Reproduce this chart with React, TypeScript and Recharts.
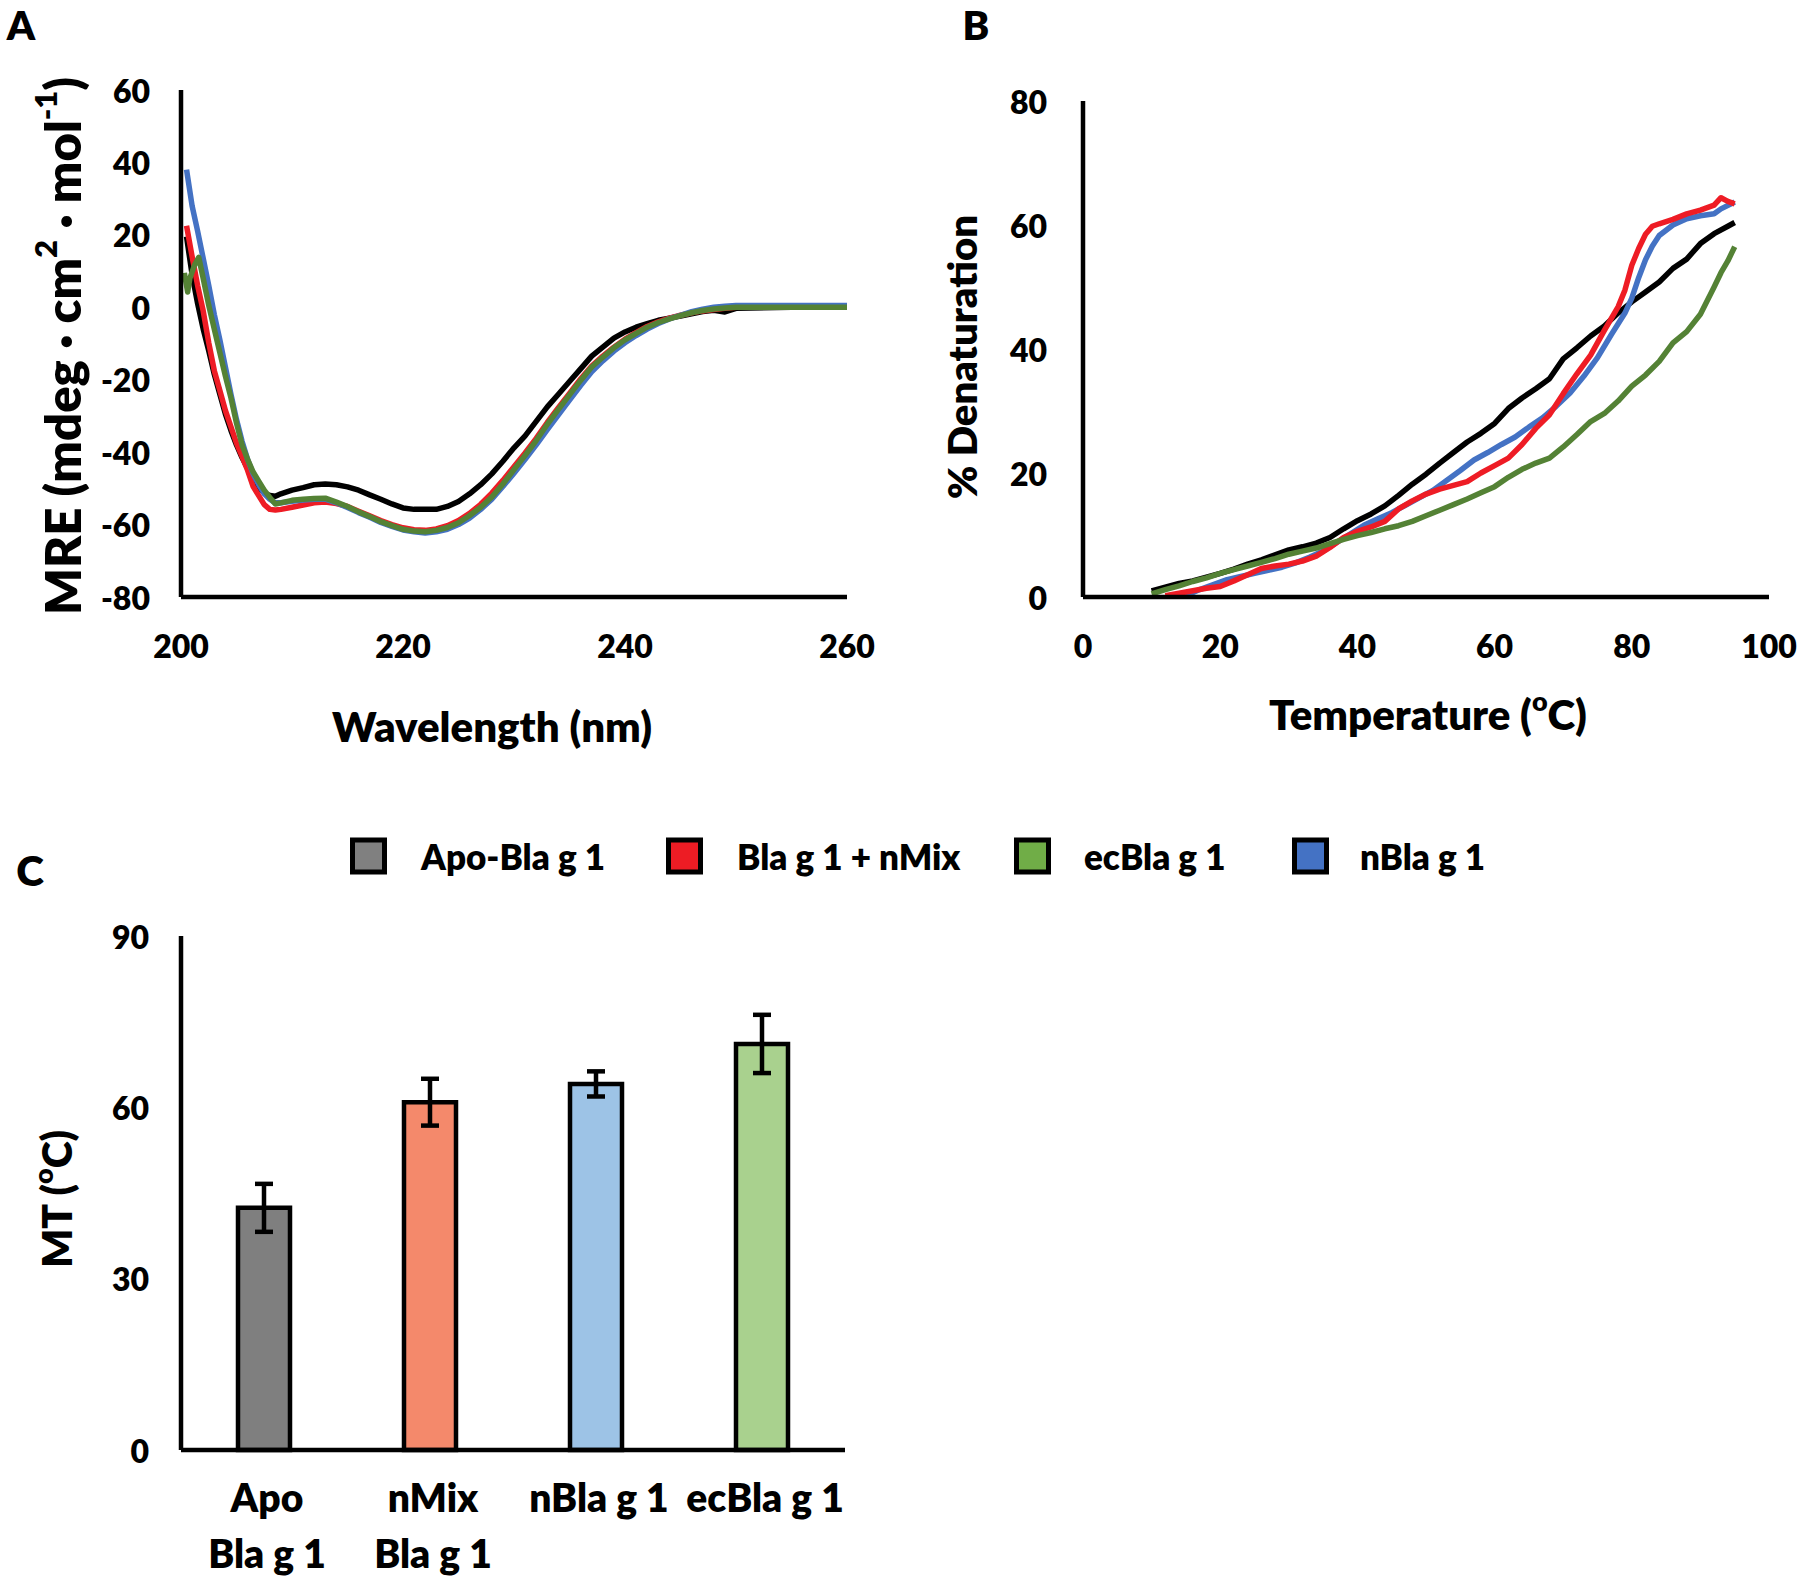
import React from 'react';
import { LineChart, Line, XAxis, YAxis, BarChart, Bar, Cell, ErrorBar } from 'recharts';

const FONT = 'Lato, "Open Sans", sans-serif';

// ---------- Panel A : CD spectra ----------
const cdWavelength = [
  200.5, 201, 201.5, 202, 202.5, 203, 203.5, 204, 204.5, 205, 205.5, 206, 206.5, 207, 207.5, 208, 208.5, 209,
  210, 211, 212, 213, 214, 215, 216, 217, 218, 219, 220, 221, 222, 223, 224, 225, 226, 227, 228, 229,
  230, 231, 232, 233, 234, 235, 236, 237, 238, 239, 240, 241, 242, 243, 244, 245, 246, 247, 248, 249, 250,
  255, 260,
];
const cdApo = [
  19.5, 9, 1, -6, -12, -18.5, -24, -29.5, -34, -38, -41.5, -44.5, -47.5, -49.8, -51.2, -52, -52.2, -51.5,
  -50.5, -49.8, -49, -48.8, -49, -49.6, -50.5, -51.8, -53, -54.3, -55.4, -55.8, -55.8, -55.8, -55, -53.6, -51.5, -49, -46, -42.5,
  -38.8, -35.5, -31.5, -27.5, -24, -20.5, -17, -13.5, -11, -8.5, -6.8, -5.5, -4.5, -3.6, -3, -2.4, -1.8, -1.2, -0.8, -1.3, -0.3,
  0, 0,
];
const cdNMix = [
  22.5, 14, 6, -1, -9.8, -17.5, -23, -28.5, -33, -37.5, -41.2, -45, -49.5, -52, -54.5, -55.8, -56, -55.8,
  -55.2, -54.6, -54, -53.8, -54.2, -55, -56.3, -57.6, -58.9, -60, -60.9, -61.4, -61.6, -61.2, -60.3, -58.9, -56.9, -54.4, -51.3, -47.8,
  -44, -40.2, -36.2, -31.8, -27.7, -23.8, -19.8, -16.2, -13.5, -11, -8.8, -7, -5.3, -4, -3, -2.2, -1.5, -1, -0.6, -0.3, 0,
  0, 0,
];
const cdNBla = [
  38, 28, 21, 13.5, 6, -2, -9, -16.5, -24, -31, -37, -42, -46, -49, -51.5, -53, -54, -54,
  -53.6, -53.2, -53, -53, -54, -55.3, -56.7, -58, -59.4, -60.5, -61.5, -62, -62.3, -62, -61.3, -60, -58.2, -55.8, -53, -49.5,
  -45.8, -42, -38, -33.8, -29.7, -25.6, -21.6, -17.8, -14.8, -12.1, -9.8, -7.8, -6, -4.5, -3.2, -2.2, -1.2, -0.5, 0, 0.3, 0.5,
  0.5, 0.5,
];
const cdWavelengthEc = [
  200.3, 200.6, 200.8, 201.2, 201.6, 202, 202.5, 203, 203.5, 204, 204.5, 205, 205.5, 206, 206.5, 207, 207.5, 208, 208.5, 209,
  210, 211, 212, 213, 214, 215, 216, 217, 218, 219, 220, 221, 222, 223, 224, 225, 226, 227, 228, 229,
  230, 231, 232, 233, 234, 235, 236, 237, 238, 239, 240, 241, 242, 243, 244, 245, 246, 247, 248, 249, 250,
  255, 260,
];
const cdEc = [
  9.5, 4.2, 8, 11.5, 13.8, 8, 0.5, -6, -12.5, -19, -25, -32, -38, -42, -45.5, -48, -50.5, -52.5, -54.3, -54,
  -53.3, -53, -52.8, -52.7, -53.8, -55, -56.5, -57.8, -59.2, -60.3, -61.3, -61.8, -62, -61.6, -60.8, -59.5, -57.5, -55.2, -52.4, -48.8,
  -44.8, -40.9, -36.8, -32.3, -28.2, -24.2, -20.2, -16.5, -13.8, -11.2, -9, -7.2, -5.5, -4.2, -3.2, -2.3, -1.5, -0.9, -0.5, -0.2, 0,
  0, 0,
];
const cdXTicks = [200, 220, 240, 260];
const cdYTicks = [-80, -60, -40, -20, 0, 20, 40, 60];

// ---------- Panel B : thermal denaturation ----------
const apoTemp = [10, 12, 14, 16, 18, 20, 22, 24, 26, 28, 30, 32, 34, 36, 38, 40, 42, 44, 46, 48, 50, 52, 54, 56, 58, 60, 62, 64, 66, 68, 70, 72, 74, 76, 78, 80, 82, 84, 86, 88, 90, 92, 94, 95];
const apoDen = [1.0, 1.6, 2.2, 2.6, 3.2, 3.8, 4.5, 5.3, 6.0, 6.8, 7.6, 8.1, 8.7, 9.6, 11, 12.3, 13.4, 14.7, 16.4, 18.2, 19.8, 21.6, 23.3, 25, 26.4, 28, 30.4, 32.1, 33.6, 35.2, 38.4, 40.2, 42.1, 43.7, 45.8, 47.6, 49.2, 50.8, 53, 54.5, 57, 58.6, 59.8, 60.4];
const nmixTemp = [12, 14, 16, 18, 20, 22, 24, 26, 28, 30, 32, 34, 36, 38, 40, 42, 44, 46, 48, 50, 52, 54, 56, 58, 60, 62, 64, 66, 68, 70, 72, 74, 76, 78, 79, 80, 81, 82, 83, 84, 86, 88, 90, 92, 93, 94, 95];
const nmixDen = [0.2, 0.6, 1.0, 1.4, 1.7, 2.6, 3.6, 4.6, 5.0, 5.3, 5.8, 6.6, 8.0, 9.6, 10.6, 11.3, 12.2, 14.2, 15.5, 16.6, 17.4, 18, 18.6, 20.0, 21.2, 22.4, 24.6, 27.2, 29.4, 32.8, 36, 39, 43, 46.8, 49.5, 53.5, 56.2, 58.5, 59.8, 60.2, 60.9, 61.8, 62.4, 63.2, 64.4, 63.8, 63.4];
const nblaTemp = [15, 17, 19, 21, 23, 25, 27, 29, 31, 33, 35, 37, 39, 41, 43, 45, 47, 49, 51, 53, 55, 57, 59, 61, 63, 65, 67, 69, 71, 73, 75, 77, 79, 80, 81, 82, 83, 84, 86, 88, 90, 92, 93, 95];
const nblaDen = [0.2, 1.2, 2.0, 2.8, 3.3, 3.8, 4.3, 4.8, 5.5, 6.4, 7.4, 8.8, 10.2, 11.6, 12.6, 13.6, 14.8, 16.0, 17.2, 18.8, 20.4, 22.1, 23.3, 24.6, 25.8, 27.4, 28.9, 30.8, 32.9, 35.6, 38.6, 42.3, 45.8, 48.2, 51.5, 54.4, 56.6, 58.3, 60, 61, 61.5, 61.8, 62.6, 63.7];
const ecTemp = [10, 12, 14, 16, 18, 20, 22, 24, 26, 28, 30, 32, 34, 36, 38, 40, 42, 44, 46, 48, 50, 52, 54, 56, 58, 60, 62, 64, 66, 68, 70, 72, 74, 76, 78, 80, 82, 84, 86, 88, 90, 92, 93, 94, 95];
const ecDen = [0.5, 1.2, 1.8, 2.5, 3.1, 3.8, 4.4, 5.0, 5.6, 6.2, 6.9, 7.4, 7.9, 8.6, 9.3, 9.9, 10.4, 11.0, 11.5, 12.2, 13.1, 14.0, 14.9, 15.8, 16.8, 17.8, 19.3, 20.6, 21.6, 22.4, 24.2, 26.2, 28.3, 29.6, 31.6, 34, 35.8, 38, 41, 42.8, 45.6, 50, 52.3, 54.2, 56.5];
const denXTicks = [0, 20, 40, 60, 80, 100];
const denYTicks = [0, 20, 40, 60, 80];

// ---------- Panel C : melting temperatures ----------
const mtLine1 = ['Apo', 'nMix', 'nBla g 1', 'ecBla g 1'];
const mtLine2 = ['Bla g 1', 'Bla g 1', '', ''];
const mtValues = [42.4, 60.9, 64.1, 71.1];
const mtErrors = [4.2, 4.1, 2.2, 5.1];
const mtColors = ['#7F7F7F', '#F4896B', '#9DC3E6', '#A9D18E'];
const mtYTicks = [0, 30, 60, 90];

// ---------- Legend ----------
const legendLabels = ['Apo-Bla g 1', 'Bla g 1 + nMix', 'ecBla g 1', 'nBla g 1'];
const legendColors = ['#808080', '#ED1C24', '#70AD47', '#4472C4'];
const legendBoxX = [350, 666, 1014, 1292];
const legendTextX = [421, 737, 1084, 1360];

const lineColors = { apo: '#000000', nmix: '#EE1C25', nbla: '#4472C4', ec: '#548235' };

const pairs = (xs: number[], ys: number[]) => xs.map((x, i) => ({ x, y: ys[i] }));

const cdApoData = pairs(cdWavelength, cdApo);
const cdNMixData = pairs(cdWavelength, cdNMix);
const cdNBlaData = pairs(cdWavelength, cdNBla);
const cdEcData = pairs(cdWavelengthEc, cdEc);

const denApoData = pairs(apoTemp, apoDen);
const denNMixData = pairs(nmixTemp, nmixDen);
const denNBlaData = pairs(nblaTemp, nblaDen);
const denEcData = pairs(ecTemp, ecDen);

const mtData = mtLine1.map((l1, i) => ({ name: l1 + ' ' + mtLine2[i], l1, l2: mtLine2[i], value: mtValues[i], err: mtErrors[i] }));

const textBase = { fontFamily: FONT, fontWeight: 800, fill: '#000' } as const;
const AX = { stroke: '#000', strokeWidth: 4.5 };

const makeXTick = (off: number, size: number) => (props: any) => {
  const { x, y, payload } = props;
  return (
    <text x={x} y={y + off} textAnchor="middle" dominantBaseline="central" style={{ ...textBase, fontSize: size }}>
      {payload.value}
    </text>
  );
};
const makeYTick = (off: number, size: number) => (props: any) => {
  const { x, y, payload } = props;
  return (
    <text x={x - off} y={y} textAnchor="end" dominantBaseline="central" style={{ ...textBase, fontSize: size }}>
      {payload.value}
    </text>
  );
};
const CatTick = (props: any) => {
  const { x, y, index } = props;
  return (
    <g>
      <text x={x + 3} y={y + 47} textAnchor="middle" dominantBaseline="central" style={{ ...textBase, fontSize: 39 }}>
        {mtLine1[index]}
      </text>
      {mtLine2[index] ? (
        <text x={x + 3} y={y + 103} textAnchor="middle" dominantBaseline="central" style={{ ...textBase, fontSize: 39 }}>
          {mtLine2[index]}
        </text>
      ) : null}
    </g>
  );
};

const lineProps = { type: 'linear' as const, dataKey: 'y', dot: false, activeDot: false, strokeWidth: 5.5, isAnimationActive: false, strokeLinejoin: 'round' as const };

export default function App() {
  return (
    <div style={{ position: 'absolute', left: 0, top: 0, width: 1800, height: 1580, background: '#fff', overflow: 'hidden' }}>
      {/* Panel A */}
      <div style={{ position: 'absolute', left: 0, top: 0 }}>
        <LineChart width={900} height={760} margin={{ top: 90, right: 53, left: 0, bottom: 0 }}>
          <XAxis type="number" dataKey="x" domain={[200, 260]} ticks={cdXTicks} interval={0} height={163}
            axisLine={AX} tickLine={false} tickSize={0} tickMargin={0} tick={makeXTick(48, 32)} allowDataOverflow />
          <YAxis type="number" domain={[-80, 60]} ticks={cdYTicks} interval={0} width={181}
            axisLine={AX} tickLine={false} tickSize={0} tickMargin={0} tick={makeYTick(31, 32)} allowDataOverflow />
          <Line {...lineProps} data={cdApoData} stroke={lineColors.apo} name="Apo-Bla g 1" />
          <Line {...lineProps} data={cdNMixData} stroke={lineColors.nmix} name="Bla g 1 + nMix" />
          <Line {...lineProps} data={cdNBlaData} stroke={lineColors.nbla} name="nBla g 1" />
          <Line {...lineProps} data={cdEcData} stroke={lineColors.ec} name="ecBla g 1" />
        </LineChart>
      </div>

      {/* Panel B */}
      <div style={{ position: 'absolute', left: 900, top: 0 }}>
        <LineChart width={900} height={760} margin={{ top: 101, right: 31, left: 0, bottom: 0 }}>
          <XAxis type="number" dataKey="x" domain={[0, 100]} ticks={denXTicks} interval={0} height={163}
            axisLine={AX} tickLine={false} tickSize={0} tickMargin={0} tick={makeXTick(48, 32)} allowDataOverflow />
          <YAxis type="number" domain={[0, 80]} ticks={denYTicks} interval={0} width={183}
            axisLine={AX} tickLine={false} tickSize={0} tickMargin={0} tick={makeYTick(36, 32)} allowDataOverflow />
          <Line {...lineProps} data={denApoData} stroke={lineColors.apo} name="Apo-Bla g 1" />
          <Line {...lineProps} data={denNBlaData} stroke={lineColors.nbla} name="nBla g 1" />
          <Line {...lineProps} data={denNMixData} stroke={lineColors.nmix} name="Bla g 1 + nMix" />
          <Line {...lineProps} data={denEcData} stroke={lineColors.ec} name="ecBla g 1" />
        </LineChart>
      </div>

      {/* Panel C */}
      <div style={{ position: 'absolute', left: 0, top: 800 }}>
        <BarChart width={900} height={780} data={mtData} margin={{ top: 136, right: 55, left: 0, bottom: 0 }} barSize={52}>
          <XAxis type="category" dataKey="name" height={130} axisLine={AX} tickLine={false} tickSize={0} tickMargin={0}
            tick={<CatTick />} interval={0} />
          <YAxis type="number" domain={[0, 90]} ticks={mtYTicks} interval={0} width={181}
            axisLine={AX} tickLine={false} tickSize={0} tickMargin={0} tick={makeYTick(32, 32)} />
          <Bar dataKey="value" stroke="#000" strokeWidth={4.5} isAnimationActive={false}>
            {mtData.map((d, i) => (
              <Cell key={d.name} fill={mtColors[i]} />
            ))}
            <ErrorBar dataKey="err" width={9} strokeWidth={4.5} stroke="#000" direction="y" />
          </Bar>
        </BarChart>
      </div>

      {/* Overlay texts */}
      <svg width={1800} height={1580} style={{ position: 'absolute', left: 0, top: 0, pointerEvents: 'none' }}>
        <text x={21} y={40} textAnchor="middle" style={{ ...textBase, fontSize: 40 }}>A</text>
        <text x={976} y={40} textAnchor="middle" style={{ ...textBase, fontSize: 40 }}>B</text>
        <text x={30} y={870} textAnchor="middle" dominantBaseline="central" style={{ ...textBase, fontSize: 42 }}>C</text>

        <text x={62} y={346} textAnchor="middle" dominantBaseline="central" transform="rotate(-90, 62, 346)" style={{ ...textBase, fontSize: 49 }}>
          <tspan>MRE (mdeg · cm</tspan>
          <tspan dy={-17} style={{ fontSize: 31 }}>2</tspan>
          <tspan dy={17}> · mol</tspan>
          <tspan dy={-17} style={{ fontSize: 31 }}>-1</tspan>
          <tspan dy={17}>)</tspan>
        </text>
        <text x={492} y={726} textAnchor="middle" dominantBaseline="central" style={{ ...textBase, fontSize: 42 }}>Wavelength (nm)</text>

        <text x={962} y={357} textAnchor="middle" dominantBaseline="central" transform="rotate(-90, 962, 357)" style={{ ...textBase, fontSize: 40 }}>% Denaturation</text>
        <text x={1428} y={714} textAnchor="middle" dominantBaseline="central" style={{ ...textBase, fontSize: 42 }}>
          <tspan>Temperature (</tspan>
          <tspan dy={-14} style={{ fontSize: 27 }}>o</tspan>
          <tspan dy={14}>C)</tspan>
        </text>

        <text x={56} y={1199} textAnchor="middle" dominantBaseline="central" transform="rotate(-90, 56, 1199)" style={{ ...textBase, fontSize: 41 }}>
          <tspan>MT (</tspan>
          <tspan dy={-14} style={{ fontSize: 27 }}>o</tspan>
          <tspan dy={14}>C)</tspan>
        </text>

        {legendLabels.map((lab, i) => (
          <g key={lab}>
            <rect x={legendBoxX[i] + 2.5} y={856 - 16} width={32} height={32} fill={legendColors[i]} stroke="#000" strokeWidth={5} />
            <text x={legendTextX[i]} y={856} dominantBaseline="central" style={{ ...textBase, fontSize: 35 }}>{lab}</text>
          </g>
        ))}
      </svg>
    </div>
  );
}
